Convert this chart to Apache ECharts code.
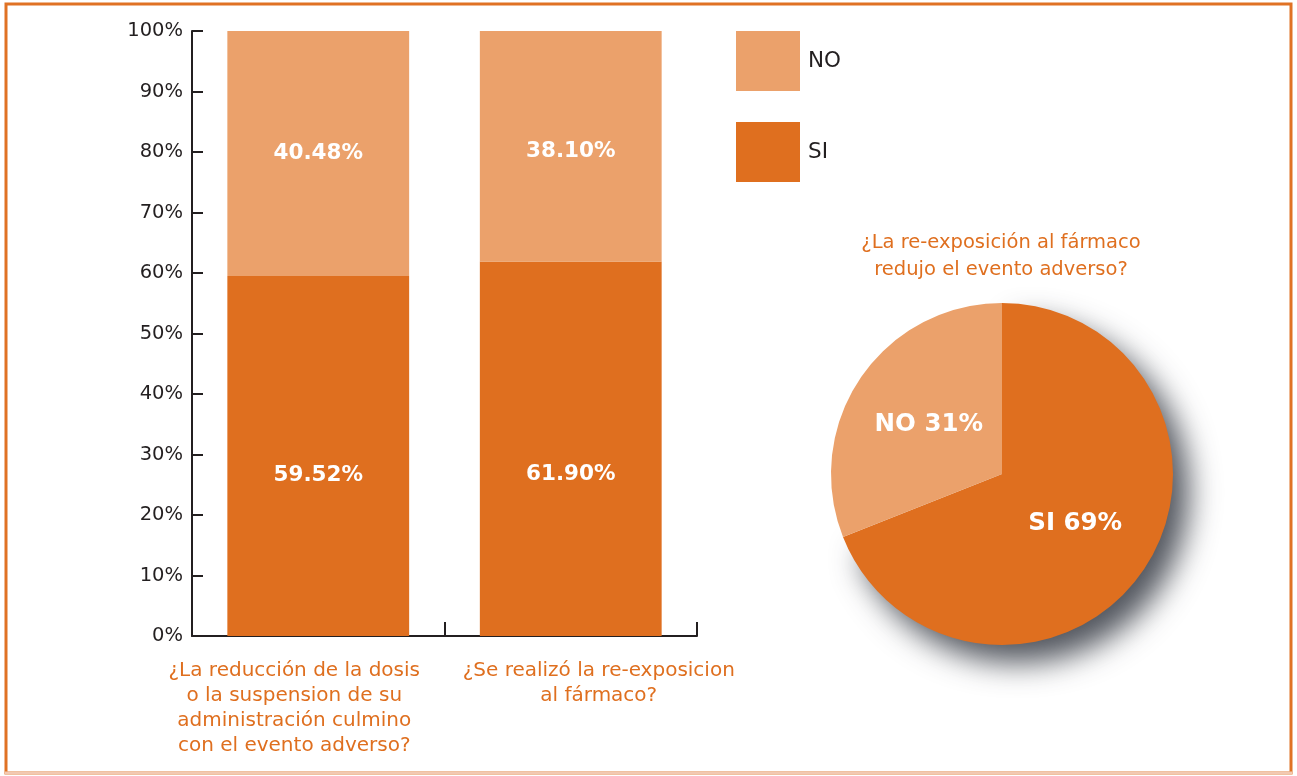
<!DOCTYPE html>
<html><head><meta charset="utf-8">
<script src="https://cdn.jsdelivr.net/npm/echarts@6/dist/echarts.min.js"></script>
<style>html,body{margin:0;padding:0;background:#fff}#c{width:1297px;height:776px}</style>
</head><body><div id="c"></div>
<script>
const categories = [
  "¿La reducción de la dosis\no la suspension de su\nadministración culmino\ncon el evento adverso?",
  "¿Se realizó la re-exposicion\nal fármaco?"
];
const siValues = [59.52, 61.90];
const noValues = [40.48, 38.10];
const seriesNames = ["NO", "SI"];
const pieTitle = "¿La re-exposición al fármaco\nredujo el evento adverso?";
const pieNames = ["SI", "NO"];
const pieValues = [69, 31];
const yTicks = [0, 10, 20, 30, 40, 50, 60, 70, 80, 90, 100];

const DARK = "#DF6F1F";
const LIGHT = "#EBA16B";
const FONT = "'DejaVu Sans', sans-serif";
const siOffsets = [19, 26];
const noOffsets = [0, 5];

const chart = echarts.init(document.getElementById('c'));
const barLabel = {show: true, position: 'inside',
  formatter: p => p.value.toFixed(2) + '%',
  fontFamily: FONT, fontWeight: 'bold', fontSize: 21.5, color: '#fff'};
chart.setOption({
  animation: false,
  backgroundColor: '#fff',
  legend: {
    orient: 'vertical', left: 736, top: 31, padding: 0,
    itemWidth: 64, itemHeight: 60, itemGap: 31,
    data: seriesNames,
    icon: 'rect',
    textStyle: {fontFamily: FONT, fontSize: 21.5, color: '#231F20', padding: [6,0,0,3]}
  },
  grid: {left: 192, right: 600, top: 31, bottom: 140, containLabel: false},
  xAxis: {
    type: 'category', data: categories,
    axisLine: {show: true, lineStyle: {color: '#231F20', width: 2}},
    axisTick: {show: true, inside: true, length: 14, alignWithLabel: false, lineStyle: {color: '#231F20', width: 2}},
    axisLabel: {
      margin: 22, interval: 0,
      formatter: function (v, i) {
        const st = i === 0 ? 'a' : 'b';
        return v.split('\n').map(l => '{' + st + '|' + l + '}').join('\n');
      },
      rich: {
        a: {fontFamily: FONT, fontSize: 20, color: DARK, lineHeight: 25, padding: [0, 48, 0, 0]},
        b: {fontFamily: FONT, fontSize: 20, color: DARK, lineHeight: 25, padding: [0, 0, 0, 56]}
      }
    }
  },
  yAxis: {
    type: 'value', min: yTicks[0], max: yTicks[yTicks.length - 1], interval: 10,
    axisLine: {show: true, lineStyle: {color: '#231F20', width: 2}},
    axisTick: {show: true, inside: true, length: 11, lineStyle: {color: '#231F20', width: 2}},
    splitLine: {show: false},
    axisLabel: {formatter: '{value}%', fontFamily: FONT, fontSize: 19.5, color: '#231F20', margin: 9, padding: [3, 0, 0, 0]}
  },
  series: [
    {
      name: 'SI', type: 'bar', stack: 'total', barWidth: '72%',
      data: siValues.map((v, i) => ({value: v, label: {offset: [0, siOffsets[i]]}})),
      itemStyle: {color: DARK},
      label: barLabel
    },
    {
      name: 'NO', type: 'bar', stack: 'total', barWidth: '72%',
      data: noValues.map((v, i) => ({value: v, label: {offset: [0, noOffsets[i]]}})),
      itemStyle: {color: LIGHT},
      label: barLabel
    },
    {
      name: 'pie', type: 'pie', center: [1002, 474], radius: 171,
      startAngle: 90, clockwise: true,
      legendHoverLink: false,
      data: pieNames.map((n, i) => ({
        name: n, value: pieValues[i],
        itemStyle: n === 'SI'
          ? {color: DARK, shadowBlur: 30, shadowOffsetX: 16, shadowOffsetY: 18, shadowColor: 'rgba(40,45,55,0.8)'}
          : {color: LIGHT}
      })),
      label: {show: true, position: 'inside',
        formatter: p => p.name + ' ' + p.value + '%',
        fontFamily: FONT, fontWeight: 'bold', fontSize: 24.5, color: '#fff'},
      labelLine: {show: false}
    }
  ],
  graphic: [
    {type: 'rect', shape: {x: 6, y: 4, width: 1285, height: 769}, style: {fill: 'none', stroke: '#E07224', lineWidth: 3}, silent: true},
    {type: 'line', shape: {x1: 5, y1: 773, x2: 1292, y2: 773}, style: {stroke: '#F2C9B2', lineWidth: 3}, silent: true},
    {type: 'text', x: 1001, y: 229, style: {text: pieTitle, textAlign: 'center', fontFamily: FONT, fontSize: 19.5, fill: DARK, lineHeight: 27}}
  ]
});
</script></body></html>
